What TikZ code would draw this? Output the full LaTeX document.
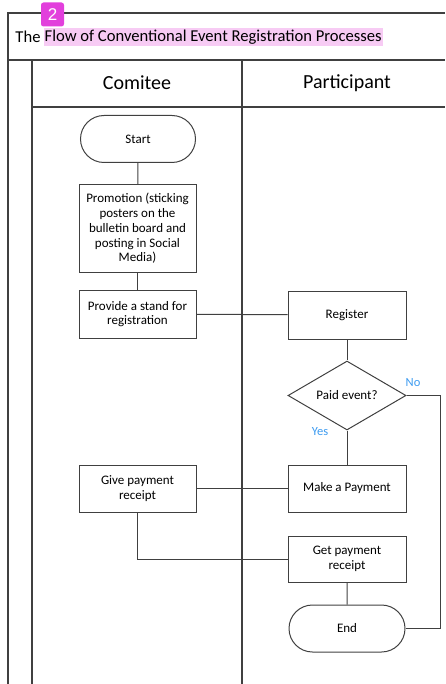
\documentclass[tikz,border=0pt]{standalone}
\usepackage{fontspec}
\setmainfont{Carlito}
\newfontfamily\badgefont{Liberation Sans}
\usetikzlibrary{shapes.geometric,shapes.misc}

\definecolor{framegray}{HTML}{404040}
\definecolor{hlpink}{HTML}{F7CBF4}
\definecolor{badgemag}{HTML}{E23FDC}
\definecolor{labelblue}{HTML}{3D9BF0}

\begin{document}
\begin{tikzpicture}[x=1pt,y=-1pt,
  lane/.style={draw=framegray, line width=1.1pt},
  flow/.style={draw=framegray, line width=1pt},
  boxtext/.style={font=\fontsize{13}{14.7}\selectfont, align=center},
  proc/.style={draw=framegray, line width=1pt, rectangle, boxtext,
    minimum width=117pt, minimum height=47pt, inner sep=1pt},
  term/.style={draw=framegray, line width=1pt, rounded rectangle, boxtext,
    minimum width=117pt, minimum height=47pt, inner sep=1pt},
  decision/.style={draw=framegray, line width=1pt, diamond, boxtext,
    minimum width=118pt, minimum height=69pt, inner sep=0pt, aspect=1.7},
  header/.style={font=\fontsize{20}{24}\selectfont},
  answer/.style={font=\fontsize{12.5}{14}\selectfont, text=labelblue}
]
\useasboundingbox (0,0) rectangle (445,684);

% swimlane frame
\coordinate (frameTL) at (8,13);
\coordinate (frameTR) at (445,13);
\coordinate (frameBL) at (8,684);
\coordinate (titleL) at (8,60);
\coordinate (titleR) at (445,60);
\coordinate (laneTop) at (32,60);
\coordinate (laneBot) at (32,684);
\coordinate (divTop) at (242,60);
\coordinate (divBot) at (242,684);
\coordinate (headL) at (32,107);
\coordinate (headR) at (445,107);
\draw[lane] (frameTR) -- (frameTL) -- (frameBL);
\draw[lane] (titleL) -- (titleR);
\draw[lane] (laneTop) -- (laneBot);
\draw[lane] (divTop) -- (divBot);
\draw[lane] (headL) -- (headR);

% title
\node[fill=hlpink, inner xsep=1pt, inner ysep=0pt, minimum height=18pt, anchor=west,
  font=\fontsize{16.6}{18}\selectfont] (titlehl) at (43.5,37)
  {Flow of Conventional Event Registration Processes};
\node[anchor=east, inner xsep=0pt, inner ysep=0pt, font=\fontsize{16.6}{18}\selectfont]
  (titlethe) at (titlehl.west) {The\,};
\node[fill=badgemag, rounded corners=2.5pt, minimum width=23pt, minimum height=24pt,
  inner sep=0pt, text=white, font=\badgefont\fontsize{17}{18}\selectfont]
  (badge) at (52.5,14.5) {2};

% lane headers
\node[header] (hcom) at (137,83) {Comitee};
\node[header] (hpart) at (347,83) {Participant};

% committee lane
\node[term] (start) at (138,139) {Start};
\node[proc, minimum height=87pt] (promo) at (137.5,228.5)
  {Promotion (sticking\\posters on the\\bulletin board and\\posting in Social\\Media)};
\node[proc, minimum height=48pt] (stand) at (137.5,314) {Provide a stand for\\registration};
\node[proc] (give) at (137.5,488.5) {Give payment\\receipt};

% participant lane
\node[proc, minimum width=118pt, minimum height=48pt] (reg) at (347,315) {Register};
\node[decision] (paid) at (347,395.5) {Paid event?};
\node[proc, minimum width=118pt] (pay) at (347,488.5) {Make a Payment};
\node[proc, minimum width=118pt, minimum height=46pt] (getr) at (347,559) {Get payment\\receipt};
\node[term, minimum width=118pt] (end) at (347,628.5) {End};

% connectors
\draw[flow] (start) -- (promo);
\draw[flow] (promo) -- (stand);
\draw[flow] (stand) -- (reg);
\draw[flow] (reg) -- (paid);
\draw[flow] (paid) -- (pay);
\draw[flow] (give) -- (pay);
\draw[flow] (give.south) |- (getr.west);
\draw[flow] (getr) -- (end);
\coordinate (noturn) at (440,395.5);
\draw[flow] (paid.east) -- (noturn) |- (end.east);

% branch labels
\node[answer] (yes) at (320,432) {Yes};
\node[answer] (no) at (413,383) {No};
\end{tikzpicture}
\end{document}
